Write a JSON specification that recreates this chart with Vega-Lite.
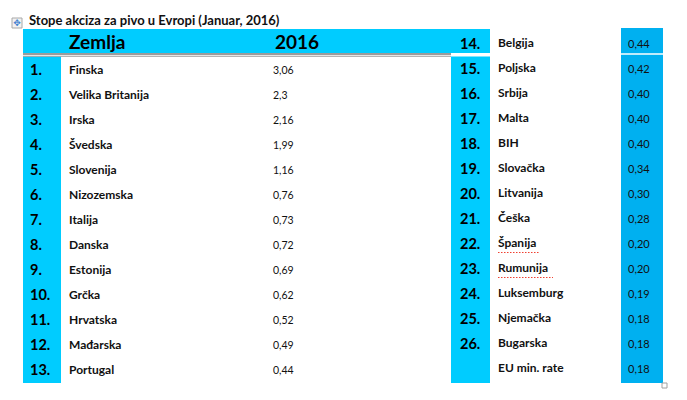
{
  "$schema": "https://vega.github.io/schema/vega-lite/v6.json",
  "width": 687,
  "height": 400,
  "autosize": "none",
  "padding": 0,
  "background": "white",
  "config": {"view": {"stroke": null}, "text": {"font": "Lato"}},
  "datasets": {
    "rows": [
      {"rank": "1.", "country": "Finska", "value": "3,06", "side": "L", "slot": 1},
      {"rank": "2.", "country": "Velika Britanija", "value": "2,3", "side": "L", "slot": 2},
      {"rank": "3.", "country": "Irska", "value": "2,16", "side": "L", "slot": 3},
      {"rank": "4.", "country": "Švedska", "value": "1,99", "side": "L", "slot": 4},
      {"rank": "5.", "country": "Slovenija", "value": "1,16", "side": "L", "slot": 5},
      {"rank": "6.", "country": "Nizozemska", "value": "0,76", "side": "L", "slot": 6},
      {"rank": "7.", "country": "Italija", "value": "0,73", "side": "L", "slot": 7},
      {"rank": "8.", "country": "Danska", "value": "0,72", "side": "L", "slot": 8},
      {"rank": "9.", "country": "Estonija", "value": "0,69", "side": "L", "slot": 9},
      {"rank": "10.", "country": "Grčka", "value": "0,62", "side": "L", "slot": 10},
      {"rank": "11.", "country": "Hrvatska", "value": "0,52", "side": "L", "slot": 11},
      {"rank": "12.", "country": "Mađarska", "value": "0,49", "side": "L", "slot": 12},
      {"rank": "13.", "country": "Portugal", "value": "0,44", "side": "L", "slot": 13},
      {"rank": "14.", "country": "Belgija", "value": "0,44", "side": "R", "slot": 0},
      {"rank": "15.", "country": "Poljska", "value": "0,42", "side": "R", "slot": 1},
      {"rank": "16.", "country": "Srbija", "value": "0,40", "side": "R", "slot": 2},
      {"rank": "17.", "country": "Malta", "value": "0,40", "side": "R", "slot": 3},
      {"rank": "18.", "country": "BIH", "value": "0,40", "side": "R", "slot": 4},
      {"rank": "19.", "country": "Slovačka", "value": "0,34", "side": "R", "slot": 5},
      {"rank": "20.", "country": "Litvanija", "value": "0,30", "side": "R", "slot": 6},
      {"rank": "21.", "country": "Češka", "value": "0,28", "side": "R", "slot": 7},
      {"rank": "22.", "country": "Španija", "value": "0,20", "side": "R", "slot": 8},
      {"rank": "23.", "country": "Rumunija", "value": "0,20", "side": "R", "slot": 9},
      {"rank": "24.", "country": "Luksemburg", "value": "0,19", "side": "R", "slot": 10},
      {"rank": "25.", "country": "Njemačka", "value": "0,18", "side": "R", "slot": 11},
      {"rank": "26.", "country": "Bugarska", "value": "0,18", "side": "R", "slot": 12},
      {"rank": "", "country": "EU min. rate", "value": "0,18", "side": "R", "slot": 13}
    ],
    "one": [{}]
  },
  "data": {"name": "rows"},
  "encoding": {
    "x": {"type": "quantitative", "scale": {"domain": [0, 687], "nice": false, "zero": false}, "axis": null},
    "y": {"type": "quantitative", "scale": {"domain": [-1.94, 14.06], "reverse": true, "nice": false, "zero": false}, "axis": null}
  },
  "layer": [
    {"data": {"name": "one"}, "mark": {"type": "rect", "fill": "#00CCFF"},
     "encoding": {"x": {"datum": 23}, "x2": {"datum": 490}, "y": {"datum": -0.78}, "y2": {"datum": 0.18}}},
    {"data": {"name": "one"}, "mark": {"type": "rect", "fill": "#00CCFF"},
     "encoding": {"x": {"datum": 23}, "x2": {"datum": 61}, "y": {"datum": 0.32}, "y2": {"datum": 13.38}}},
    {"data": {"name": "one"}, "mark": {"type": "rect", "fill": "#00CCFF"},
     "encoding": {"x": {"datum": 451}, "x2": {"datum": 490}, "y": {"datum": 0.32}, "y2": {"datum": 13.38}}},
    {"data": {"name": "one"}, "mark": {"type": "rect", "fill": "#00B0F0"},
     "encoding": {"x": {"datum": 621}, "x2": {"datum": 663}, "y": {"datum": -0.82}, "y2": {"datum": 13.38}}},
    {"data": {"name": "one"}, "mark": {"type": "rule", "color": "white", "strokeWidth": 1.5},
     "encoding": {"x": {"datum": 621}, "x2": {"datum": 663}, "y": {"datum": 0.22}}},
    {"data": {"name": "one"}, "mark": {"type": "rule", "color": "#7a7a7a", "strokeWidth": 1.5},
     "encoding": {"x": {"datum": 23}, "x2": {"datum": 451}, "y": {"datum": 0.22}}},
    {"data": {"name": "one"}, "mark": {"type": "rule", "color": "#9a9a9a", "strokeWidth": 1},
     "encoding": {"x": {"datum": 23}, "x2": {"datum": 451}, "y": {"datum": 0.31}}},
    {"data": {"name": "one"}, "mark": {"type": "rect", "fill": "#f2f2f2", "stroke": "#a8a8a8", "strokeWidth": 1},
     "encoding": {"x": {"datum": 12}, "x2": {"datum": 22}, "y": {"datum": -1.22}, "y2": {"datum": -0.82}}},
    {"data": {"name": "one"}, "mark": {"type": "text", "font": "DejaVu Sans", "fontSize": 9, "color": "#3f7fd0", "align": "center", "baseline": "middle"},
     "encoding": {"x": {"datum": 17}, "y": {"datum": -1.02}, "text": {"value": "✥"}}},
    {"data": {"name": "one"}, "mark": {"type": "rect", "fill": "white", "stroke": "#a0a0a0", "strokeWidth": 1},
     "encoding": {"x": {"datum": 662}, "x2": {"datum": 667}, "y": {"datum": 13.38}, "y2": {"datum": 13.58}}},
    {"data": {"name": "one"}, "mark": {"type": "text", "fontSize": 13, "fontWeight": "bold", "color": "#111", "align": "left", "baseline": "alphabetic"},
     "encoding": {"x": {"datum": 29}, "y": {"datum": -0.94}, "text": {"value": "Stope akciza za pivo u Evropi (Januar, 2016)"}}},
    {"data": {"name": "one"}, "mark": {"type": "text", "fontSize": 19, "fontWeight": "bold", "color": "#000", "align": "left", "baseline": "alphabetic"},
     "encoding": {"x": {"datum": 69}, "y": {"datum": 0}, "text": {"value": "Zemlja"}}},
    {"data": {"name": "one"}, "mark": {"type": "text", "fontSize": 19, "fontWeight": "bold", "color": "#000", "align": "left", "baseline": "alphabetic"},
     "encoding": {"x": {"datum": 275}, "y": {"datum": 0}, "text": {"value": "2016"}}},
    {"transform": [{"filter": "datum.side === 'L'"}],
     "mark": {"type": "text", "fontSize": 14.5, "fontWeight": "bold", "color": "#000", "align": "left", "baseline": "alphabetic", "dy": 1.5},
     "encoding": {"x": {"datum": 30}, "y": {"field": "slot"}, "text": {"field": "rank"}}},
    {"transform": [{"filter": "datum.side === 'R'"}],
     "mark": {"type": "text", "fontSize": 14.5, "fontWeight": "bold", "color": "#000", "align": "left", "baseline": "alphabetic", "dy": 0},
     "encoding": {"x": {"datum": 460}, "y": {"field": "slot"}, "text": {"field": "rank"}}},
    {"transform": [{"filter": "datum.side === 'L'"}],
     "mark": {"type": "text", "fontSize": 12, "fontWeight": "bold", "color": "#111", "align": "left", "baseline": "alphabetic"},
     "encoding": {"x": {"datum": 69}, "y": {"field": "slot"}, "text": {"field": "country"}}},
    {"transform": [{"filter": "datum.side === 'R'"}],
     "mark": {"type": "text", "fontSize": 12, "fontWeight": "bold", "color": "#111", "align": "left", "baseline": "alphabetic", "dy": -1.5},
     "encoding": {"x": {"datum": 498}, "y": {"field": "slot"}, "text": {"field": "country"}}},
    {"transform": [{"filter": "datum.side === 'L'"}],
     "mark": {"type": "text", "fontSize": 10.5, "color": "#111", "align": "left", "baseline": "alphabetic"},
     "encoding": {"x": {"datum": 273}, "y": {"field": "slot"}, "text": {"field": "value"}}},
    {"transform": [{"filter": "datum.side === 'R'"}],
     "mark": {"type": "text", "fontSize": 11, "color": "#111", "align": "left", "baseline": "alphabetic", "dy": -1},
     "encoding": {"x": {"datum": 628}, "y": {"field": "slot"}, "text": {"field": "value"}}},
    {"transform": [{"filter": "datum.country === 'Španija'"}],
     "mark": {"type": "rule", "color": "#f04030", "strokeWidth": 1, "strokeDash": [1.5, 1.5]},
     "encoding": {"x": {"datum": 498}, "x2": {"datum": 540}, "y": {"field": "slot"}, "yOffset": {"value": 4}}},
    {"transform": [{"filter": "datum.country === 'Rumunija'"}],
     "mark": {"type": "rule", "color": "#f04030", "strokeWidth": 1, "strokeDash": [1.5, 1.5]},
     "encoding": {"x": {"datum": 498}, "x2": {"datum": 553}, "y": {"field": "slot"}, "yOffset": {"value": 4}}}
  ]
}
